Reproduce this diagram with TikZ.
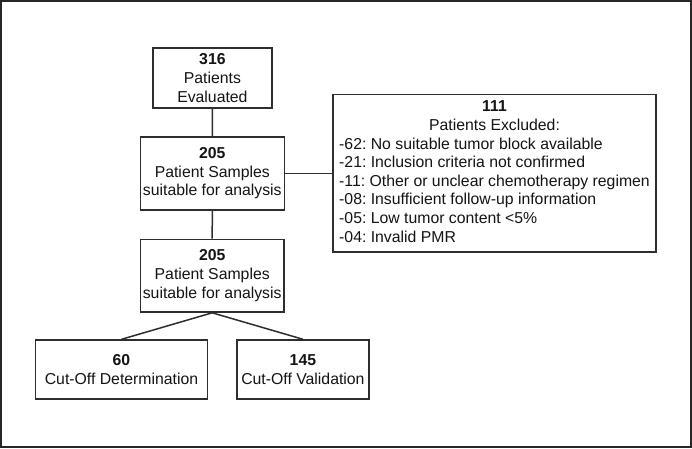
\documentclass[tikz,border=0pt]{standalone}
\usepackage{fontspec}
\setmainfont{Liberation Sans}
\frenchspacing
\definecolor{ln}{HTML}{2E2E2E}
\definecolor{tx}{HTML}{141414}
\begin{document}
\begin{tikzpicture}[x=1pt,y=-1pt,
  box/.style={draw=ln, line width=1.5pt, text=tx, align=center, inner sep=1pt,
    font=\fontsize{15.8}{18.6}\selectfont},
  conn/.style={draw=ln, line width=1.5pt}]
\useasboundingbox (0,0) rectangle (692,448);
\fill[white] (0,0) rectangle (692,448);
\draw[line width=2.2pt, draw=black!85] (1.1,1.1) rectangle (690.9,446.9);

\node[box, minimum width=119.3pt, minimum height=60pt] (eval) at (212.4,78)
  {\textbf{316}\\Patients\\Evaluated};
\node[box, minimum width=144pt, minimum height=73pt] (suit1) at (212.3,173.5)
  {\textbf{205}\\Patient Samples\\suitable for analysis};
\node[box, minimum width=143.7pt, minimum height=72.7pt] (suit2) at (212.2,275.7)
  {\textbf{205}\\Patient Samples\\suitable for analysis};
\node[box, minimum width=172.4pt, minimum height=58.7pt] (det) at (121.5,369.4)
  {\textbf{60}\\Cut-Off Determination};
\node[box, minimum width=132.3pt, minimum height=59pt] (val) at (302.9,369.5)
  {\textbf{145}\\Cut-Off Validation};
\node[box, minimum width=323pt, minimum height=157.3pt] (excl) at (494.5,173.3)
  {\begin{tabular}{@{}l@{}}
   \multicolumn{1}{@{}c@{}}{\textbf{111}}\\
   \multicolumn{1}{@{}c@{}}{Patients Excluded:}\\
   -62: No suitable tumor block available\\
   -21: Inclusion criteria not confirmed\\
   -11: Other or unclear chemotherapy regimen\\
   -08: Insufficient follow-up information\\
   -05: Low tumor content <5\%\\
   -04: Invalid PMR
   \end{tabular}};

\draw[conn] (eval.south) -- (suit1.north);
\draw[conn] (suit1.east) -- (suit1.east -| excl.west);
\draw[conn] (suit1.south) -- (suit2.north);
\draw[conn] (suit2.south) -- (det.north);
\draw[conn] (suit2.south) -- (val.north);
\end{tikzpicture}
\end{document}
